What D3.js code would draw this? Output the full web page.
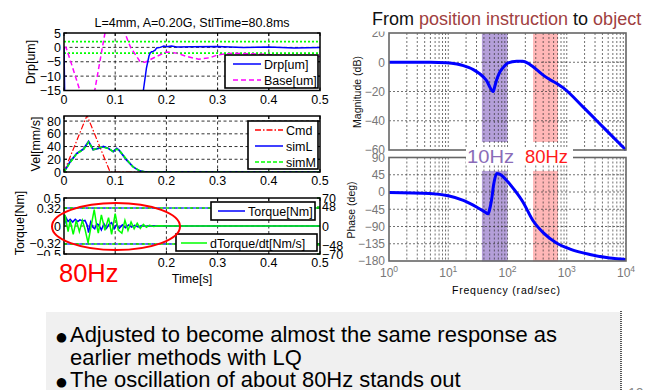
<!DOCTYPE html>
<html><head><meta charset="utf-8">
<script src="https://cdn.jsdelivr.net/npm/d3@7"></script>
<style>body{margin:0;background:#fff}svg{display:block;font-family:"Liberation Sans",Arial,sans-serif}</style>
</head><body><svg id="c" width="661" height="390"></svg>
<script>
// ---------------- data ----------------
const timeTicks = [0, 0.1, 0.2, 0.3, 0.4, 0.5];
const drpTicks = [5, 0, -5, -10, -15];
const velTicks = [0, 20, 40, 60, 80];
const tqTicks = [-0.5, -0.32, 0, 0.32, 0.5];
const dtqTicks = [-70, -48, 0, 48, 70];
const drpLimits = [-2, 2];
const tqLimits = [-0.32, 0.32];
const drp = [[0,0],[0.002,-25],[0.15,-25],[0.155,-15],[0.161,-7.2],[0.166,-3],[0.168,-2],[0.171,-1.5],[0.174,-1.4],[0.178,-1],[0.181,-0.2],[0.188,0],[0.195,0.5],[0.2,0.2],[0.21,0.5],[0.22,0.1],[0.25,0.2],[0.3,0.3],[0.35,0],[0.4,0.1],[0.45,-0.2],[0.5,0]];
const base = [[0,0],[0.004,0],[0.015,-6],[0.031,-15],[0.045,-22],[0.06,-15],[0.07,-5],[0.08,5],[0.1,11],[0.119,5],[0.13,0],[0.148,-4.8],[0.158,-5.2],[0.178,-3.4],[0.2,-1.6],[0.22,-2],[0.24,-3.2],[0.263,-4.1],[0.285,-3.6],[0.3,-2.6],[0.33,-2],[0.4,-2.5],[0.45,-3.5],[0.5,-3.2]];
const velCmd = [[0,0],[0.045,89],[0.09,0],[0.5,0]];
const velSimL = [[0,0],[0.012,16],[0.025,29],[0.038,36],[0.048,48],[0.057,35],[0.067,37],[0.077,40],[0.087,37],[0.096,32],[0.103,37],[0.108,34],[0.122,19],[0.135,8],[0.148,1.6],[0.158,0],[0.5,0]];
const velSimM = [[0,0],[0.012,15],[0.025,29],[0.038,35],[0.048,47],[0.057,35],[0.067,38],[0.077,39],[0.087,37],[0.096,32],[0.103,36],[0.108,34],[0.122,20],[0.135,8],[0.148,2],[0.158,0],[0.5,0]];
const torque = [[0,0],[0.002,0.06],[0.004,0.15],[0.008,0.08],[0.012,0.12],[0.017,0.07],[0.022,0.12],[0.027,0.08],[0.031,0.11],[0.036,0.09],[0.041,0.1],[0.045,0.02],[0.048,-0.12],[0.052,0.07],[0.056,-0.02],[0.06,-0.05],[0.064,0.04],[0.068,0.02],[0.073,-0.07],[0.078,0.04],[0.083,-0.04],[0.088,0.03],[0.093,0.06],[0.098,-0.05],[0.103,0.03],[0.108,-0.04],[0.114,0.02],[0.12,-0.03],[0.126,0.02],[0.132,-0.02],[0.138,0.01],[0.145,-0.015],[0.152,0.01],[0.16,-0.005],[0.17,0.005],[0.18,0],[0.5,0]];
const dTorque = [[0,0],[0.002,28],[0.008,-14],[0.012,14],[0.018,-21],[0.024,14],[0.03,-14],[0.036,14],[0.041,-8],[0.047,-42],[0.053,0],[0.059,41],[0.064,0],[0.067,-18],[0.073,28],[0.08,-11],[0.087,21],[0.093,-21],[0.1,31],[0.106,-10],[0.113,-18],[0.119,14],[0.125,-11],[0.131,10],[0.137,-7],[0.143,7],[0.149,-6],[0.155,4],[0.161,-3],[0.167,2],[0.175,-1],[0.185,0.5],[0.2,0],[0.5,0]];
const magFreq = [1,5,9.4,14,18,22,26.5,33,39,45,50.4,54,57.6,61,65.6,70,74.7,85,97,120,143,180,220,260,310,400,525,700,875,1900,4150,10000];
const magDb = [0,0,-0.3,-1.2,-2.3,-3.5,-5,-7.5,-10,-13,-17,-19,-20,-16.5,-12,-9,-6.5,-3.5,-1,0.3,0.7,0.6,-0.6,-2.6,-5,-8.8,-12,-14.8,-17.5,-30.7,-44.5,-60];
const phFreq = [1,4.9,10,18,30,41.6,47,50,53.6,58.8,65.6,74.7,97,133,182,270,400,670,1140,2460,5300,10000];
const phaseDeg = [-1,-4,-10,-22,-39,-52,-57,-45,-22,22,48,46,30,4,-26,-75,-106,-133,-149,-163,-172,-176];
const magTicks = [20, 0, -20, -40, -60];
const phaseTicks = [90, 45, 0, -45, -90, -135, -180];
const freqDecades = [1, 10, 100, 1000, 10000];
const bandLow = [37, 270], bandHigh = [100, 710], bandLabels = ["10Hz", "80Hz"];
const bulletLines = [["●","Adjusted to become almost the same response as"],["","earlier methods with LQ"],["●","The oscillation of about 80Hz stands out"]];

// ---------------- drawing ----------------
const svg = d3.select("#c");
const defs = svg.append("defs");
function clip(id, x, y, w, h){ defs.append("clipPath").attr("id", id).append("rect").attr("x", x).attr("y", y).attr("width", w).attr("height", h); return `url(#${id})`; }
const fmtNeg = v => (v < 0 ? "\u2212" + String(-v) : String(v));

const xT = d3.scaleLinear().domain([0, 0.5]).range([64, 320]);
const yDrp = d3.scaleLinear().domain([-15, 5]).range([90.5, 33]);
const yVel = d3.scaleLinear().domain([0, 88]).range([172, 116]);
const yTq = d3.scaleLinear().domain([-0.5, 0.5]).range([254, 198]);
const yTqR = d3.scaleLinear().domain([-70, 70]).range([254, 198]);

function leftPanel(y, ticks, cid, xLabelTicks) {
  const [yb, yt] = y.range();
  const g = svg.append("g");
  g.selectAll(".gx").data(timeTicks.slice(1, -1)).join("line")
    .attr("x1", d => xT(d)).attr("x2", d => xT(d)).attr("y1", yt).attr("y2", yb)
    .attr("stroke", "#000").attr("stroke-width", 0.8).attr("stroke-dasharray", "3,2.5");
  g.selectAll(".gy").data(ticks.filter(t => y(t) > yt + 1 && y(t) < yb - 1)).join("line")
    .attr("x1", 64).attr("x2", 320).attr("y1", d => y(d)).attr("y2", d => y(d))
    .attr("stroke", "#000").attr("stroke-width", 0.8).attr("stroke-dasharray", "3,2.5");
  g.selectAll(".tx").data(xLabelTicks || timeTicks).join("text")
    .attr("x", d => xT(d)).attr("y", yb + 13).attr("text-anchor", "middle")
    .attr("font-size", 12.5).text(d => d);
  g.selectAll(".ty").data(ticks).join("text")
    .attr("x", 61).attr("y", d => y(d)).attr("dy", "0.36em").attr("text-anchor", "end")
    .attr("font-size", 12.5).text(fmtNeg);
  g.selectAll(".kx").data(timeTicks).join("path")
    .attr("d", d => `M${xT(d)},${yb}v-3M${xT(d)},${yt}v3`).attr("stroke", "#000");
  g.selectAll(".ky").data(ticks).join("path")
    .attr("d", d => `M64,${y(d)}h3M320,${y(d)}h-3`).attr("stroke", "#000");
  return {g, yt, yb, cp: clip(cid, 64, yt, 256, yb - yt)};
}
function frame(yt, yb){
  svg.append("rect").attr("x", 64).attr("y", yt).attr("width", 256).attr("height", yb - yt)
    .attr("fill", "none").attr("stroke", "#000").attr("stroke-width", 1.5);
}
function legend(x, y, w, h, items, dy) {
  const g = svg.append("g");
  g.append("rect").attr("x", x).attr("y", y).attr("width", w).attr("height", h)
    .attr("fill", "#fff").attr("stroke", "#000").attr("stroke-width", 1.6);
  items.forEach((it, i) => {
    const cy = y + dy[0] + i * dy[1];
    g.append("line").attr("x1", x + it.lx[0]).attr("x2", x + it.lx[1]).attr("y1", cy).attr("y2", cy)
      .attr("stroke", it.c).attr("stroke-width", 1.5).attr("stroke-dasharray", it.dash || null);
    g.append("text").attr("x", x + it.lx[1] + 3).attr("y", cy).attr("dy", "0.36em")
      .attr("font-size", 12.5).text(it.t);
  });
}
const lineT = (y) => d3.line().x(d => xT(d[0])).y(d => y(d[1]));

svg.append("text").attr("x", 192).attr("y", 27).attr("text-anchor", "middle").attr("font-size", 12.5)
  .text("L=4mm, A=0.20G, StlTime=80.8ms");

// Panel 1: Drp
{
  const p = leftPanel(yDrp, drpTicks, "cp1");
  p.g.selectAll(".lim").data(drpLimits).join("line")
    .attr("x1", 64).attr("x2", 320).attr("y1", d => yDrp(d)).attr("y2", d => yDrp(d))
    .attr("stroke", "#00ff00").attr("stroke-width", 1.6).attr("stroke-dasharray", "2,2");
  const cg = svg.append("g").attr("clip-path", p.cp);
  cg.append("path").attr("d", lineT(yDrp)(base)).attr("fill", "none").attr("stroke", "#ff00ff")
    .attr("stroke-width", 1.5).attr("stroke-dasharray", "5,3");
  cg.append("path").attr("d", lineT(yDrp)(drp)).attr("fill", "none").attr("stroke", "#0000ff").attr("stroke-width", 1.5);
  frame(p.yt, p.yb);
  legend(225, 55, 93, 33, [{t:"Drp[um]", c:"#0000ff", lx:[8,36]}, {t:"Base[um]", c:"#ff00ff", dash:"5,3", lx:[8,36]}], [9, 16]);
  svg.append("text").attr("transform", `translate(35,62) rotate(-90)`).attr("text-anchor", "middle")
    .attr("font-size", 12.5).text("Drp[um]");
}
// Panel 2: Vel
{
  const p = leftPanel(yVel, velTicks, "cp2");
  const cg = svg.append("g").attr("clip-path", p.cp);
  cg.append("path").attr("d", lineT(yVel)(velCmd)).attr("fill", "none").attr("stroke", "#ff0000")
    .attr("stroke-width", 1.2).attr("stroke-dasharray", "6,2,1.5,2");
  cg.append("path").attr("d", lineT(yVel)(velSimL)).attr("fill", "none").attr("stroke", "#0000ff").attr("stroke-width", 1.8);
  cg.append("path").attr("d", lineT(yVel)(velSimM)).attr("fill", "none").attr("stroke", "#00ff00")
    .attr("stroke-width", 1.6).attr("stroke-dasharray", "4,2");
  frame(p.yt, p.yb);
  legend(248, 121, 70, 48, [{t:"Cmd", c:"#ff0000", dash:"6,2,1.5,2", lx:[7,35]}, {t:"simL", c:"#0000ff", lx:[7,35]}, {t:"simM", c:"#00ff00", dash:"4,2", lx:[7,35]}], [9, 16]);
  svg.append("text").attr("transform", `translate(40,144) rotate(-90)`).attr("text-anchor", "middle")
    .attr("font-size", 12.5).text("Vel[mm/s]");
}
// Panel 3: Torque
{
  const p = leftPanel(yTq, tqTicks, "cp3", timeTicks.filter(t => t >= 0.2));
  svg.selectAll(".tr").data(dtqTicks).join("text")
    .attr("x", 322).attr("y", d => yTqR(d)).attr("dy", "0.36em").attr("font-size", 12.5).text(fmtNeg);
  svg.selectAll(".kr").data(dtqTicks).join("path")
    .attr("d", d => `M320,${yTqR(d)}h-3`).attr("stroke", "#00cc00");
  const cg = svg.append("g").attr("clip-path", p.cp);
  cg.selectAll(".l1").data(tqLimits).join("line")
    .attr("x1", 64).attr("x2", 320).attr("y1", d => yTq(d)).attr("y2", d => yTq(d))
    .attr("stroke", "#00dd00").attr("stroke-width", 1.5).attr("stroke-dasharray", "3,3");
  cg.selectAll(".l2").data(tqLimits).join("line")
    .attr("x1", 64).attr("x2", 320).attr("y1", d => yTq(d)).attr("y2", d => yTq(d))
    .attr("stroke", "#3355ff").attr("stroke-width", 1.5).attr("stroke-dasharray", "3,3").attr("stroke-dashoffset", 3);
  cg.append("path").attr("d", lineT(yTq)(torque)).attr("fill", "none").attr("stroke", "#0000ff").attr("stroke-width", 1.5);
  cg.append("path").attr("d", lineT(yTqR)(dTorque)).attr("fill", "none").attr("stroke", "#00ff00").attr("stroke-width", 1.5);
  frame(p.yt, p.yb);
  legend(211, 202, 104, 18, [{t:"Torque[Nm]", c:"#0000ff", lx:[7,34]}], [9, 0]);
  legend(176, 234, 141, 17, [{t:"dTorque/dt[Nm/s]", c:"#00ff00", lx:[5,31]}], [9, 0]);
  svg.append("text").attr("transform", `translate(24,223) rotate(-90)`).attr("text-anchor", "middle")
    .attr("font-size", 12.5).text("Torque[Nm]");
  svg.append("rect").attr("x", 0).attr("y", 256).attr("width", 128).attr("height", 40).attr("fill", "#fff");
  svg.append("text").attr("x", 59).attr("y", 282).attr("font-size", 25.5).attr("fill", "#ff0000").text("80Hz");
  svg.append("text").attr("x", 192).attr("y", 283).attr("text-anchor", "middle").attr("font-size", 12.5).text("Time[s]");
  svg.append("ellipse").attr("cx", 116).attr("cy", 226.5).attr("rx", 64).attr("ry", 23.5)
    .attr("fill", "none").attr("stroke", "#ff0000").attr("stroke-width", 2);
}

// ---------------- Bode ----------------
const xF = d3.scaleLog().domain([1, 10000]).range([389, 626]);
const yMag = d3.scaleLinear().domain([-60, 20]).range([150, 33]);
const yPh = d3.scaleLinear().domain([-180, 90]).range([261, 157.5]);
const minorF = [];
freqDecades.slice(0, -1).forEach(d => { for (let k = 2; k <= 9; k++) minorF.push(d * k); });

{
  const t = svg.append("text").attr("x", 372).attr("y", 25).attr("font-size", 18);
  [["From ", "#111"], ["position instruction", "#a04040"], [" to ", "#111"], ["object", "#a04040"]]
    .forEach(([s, c]) => t.append("tspan").attr("fill", c).text(s));
}
function bodePanel(y, ticks, cid, bandRange, curveX, curveY, label, labelY) {
  const [yb, yt] = y.range();
  const g = svg.append("g");
  const bandColors = ["#8c6cc4", "#ff7070"], bandOp = [0.65, 0.5];
  bandLow.forEach((lo, i) => {
    g.append("rect").attr("x", xF(lo)).attr("width", xF(bandHigh[i]) - xF(lo))
      .attr("y", y(bandRange[1])).attr("height", y(bandRange[0]) - y(bandRange[1]))
      .attr("fill", bandColors[i]).attr("opacity", bandOp[i]);
  });
  g.selectAll(".gx").data(freqDecades.slice(1, -1).concat(minorF)).join("line")
    .attr("x1", d => xF(d)).attr("x2", d => xF(d)).attr("y1", yt).attr("y2", yb)
    .attr("stroke", "#333").attr("stroke-width", 0.7).attr("stroke-dasharray", "2,2");
  g.selectAll(".gy").data(ticks.filter(t => y(t) > yt + 1 && y(t) < yb - 1)).join("line")
    .attr("x1", 389).attr("x2", 626).attr("y1", d => y(d)).attr("y2", d => y(d))
    .attr("stroke", "#333").attr("stroke-width", 0.7).attr("stroke-dasharray", "2,2");
  const cpl = clip(cid + "l", 340, 31.5, 50, 300);
  g.append("g").attr("clip-path", cpl).selectAll("text").data(ticks).join("text")
    .attr("x", 385).attr("y", d => y(d)).attr("dy", "0.36em").attr("text-anchor", "end")
    .attr("font-size", 12).attr("fill", "#777").text(fmtNeg);
  const cp = clip(cid, 389, yt - 2, 237, yb - yt + 4);
  svg.append("path").attr("clip-path", cp)
    .attr("d", d3.line().curve(d3.curveMonotoneX).x((d, i) => xF(curveX[i])).y(d => y(d))(curveY))
    .attr("fill", "none").attr("stroke", "#0000ff").attr("stroke-width", 3);
  svg.append("rect").attr("x", 389).attr("y", yt).attr("width", 237).attr("height", yb - yt)
    .attr("fill", "none").attr("stroke", "#666").attr("stroke-width", 1.6);
  svg.append("text").attr("transform", `translate(${label.x},${labelY}) rotate(-90)`).attr("text-anchor", "middle")
    .attr("font-size", 10.5).attr("fill", "#111").text(label.t);
}
bodePanel(yMag, magTicks, "bm", [-54.5, 20], magFreq, magDb, {t:"Magnitude (dB)", x:361}, 92);
bodePanel(yPh, phaseTicks, "bp", [-181, 55], phFreq, phaseDeg, {t:"Phase (deg)", x:355}, 210);
{
  const g = svg.append("g");
  freqDecades.forEach(d => {
    const t = g.append("text").attr("x", xF(d)).attr("y", 277).attr("text-anchor", "middle")
      .attr("font-size", 12).attr("fill", "#777");
    t.append("tspan").text("10");
    t.append("tspan").attr("font-size", 8.5).attr("dy", -5).text(Math.round(Math.log10(d)));
  });
  svg.append("text").attr("x", 506).attr("y", 294).attr("text-anchor", "middle").attr("font-size", 10.5)
    .attr("textLength", 108).attr("lengthAdjust", "spacing").text("Frequency (rad/sec)");
}
svg.append("rect").attr("x", 466).attr("y", 148).attr("width", 107).attr("height", 17).attr("fill", "#fff");
svg.append("text").attr("x", 467).attr("y", 163).attr("font-size", 19).attr("fill", "#8a6cb8")
  .attr("textLength", 47).attr("lengthAdjust", "spacingAndGlyphs").text(bandLabels[0]);
svg.append("text").attr("x", 525).attr("y", 163).attr("font-size", 19).attr("fill", "#ff1a1a")
  .attr("textLength", 43).attr("lengthAdjust", "spacingAndGlyphs").text(bandLabels[1]);

// ---------------- bullets ----------------
svg.append("rect").attr("x", 46).attr("y", 312).attr("width", 575).attr("height", 80).attr("fill", "#f0f0f0");
svg.append("line").attr("x1", 621).attr("x2", 621).attr("y1", 311).attr("y2", 390)
  .attr("stroke", "#555").attr("stroke-width", 2).attr("stroke-dasharray", "1,1");
svg.append("text").attr("x", 628).attr("y", 398).attr("font-size", 14).attr("fill", "#888").text("10");
const bulletTexts = bulletLines.map(([b, s], i) => {
  const y = 342 + i * 22.5;
  if (b) svg.append("text").attr("x", 56).attr("y", y - 1).attr("font-size", 12.5)
    .attr("font-family", "'DejaVu Sans',sans-serif").text(b);
  return svg.append("text").attr("x", 70).attr("y", y).attr("font-size", 22).attr("fill", "#000").text(s);
});
const natural = bulletTexts[0].node().getComputedTextLength();
const sx = 487 / natural;
bulletTexts.forEach(t => {
  const w = t.node().getComputedTextLength();
  t.attr("textLength", w * sx).attr("lengthAdjust", "spacingAndGlyphs");
});
</script></body></html>
